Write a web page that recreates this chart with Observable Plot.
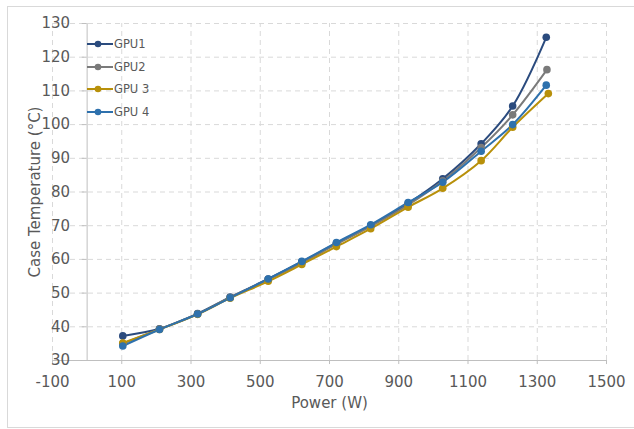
<!DOCTYPE html>
<html>
<head>
<meta charset="utf-8">
<script src="https://cdn.jsdelivr.net/npm/d3@7"></script>
<script src="https://cdn.jsdelivr.net/npm/@observablehq/plot@0.6"></script>
<style>
  html, body { margin: 0; padding: 0; background: #fff; overflow: hidden; }
  #wrap { position: relative; width: 634px; height: 429px; font-family: "DejaVu Sans", sans-serif; }
  #frame { position: absolute; left: 7px; top: 6px; width: 640px; height: 420px; border: 1px solid #d9d9d9; pointer-events: none; }
  #legend { position: absolute; left: 87px; top: 33px; font-size: 11.5px; color: #595959; }
  .item { height: 22.5px; display: flex; align-items: center; }
  .item svg { margin-right: 1px; }
</style>
</head>
<body>
<div id="wrap"><div id="frame"></div><div id="legend"></div></div>
<script>
const series = ["GPU1", "GPU2", "GPU 3", "GPU 4"];
const colors = ["#2b4b7e", "#7a7a7a", "#b8900a", "#2e71ad"];
const power1 = [103, 209, 319, 413, 523, 620, 720, 819, 927, 1027, 1138, 1229, 1326];
const power2 = [103, 209, 319, 413, 523, 620, 720, 819, 927, 1027, 1138, 1229, 1328];
const power3 = [103, 209, 319, 413, 523, 620, 720, 819, 927, 1027, 1138, 1229, 1332];
const power4 = [103, 209, 319, 413, 523, 620, 720, 819, 927, 1027, 1138, 1229, 1326];
const gpu1 = [37.3, 39.4, 43.9, 48.8, 54.2, 59.3, 64.8, 70.0, 76.6, 83.9, 94.3, 105.5, 125.9];
const gpu2 = [35.0, 39.3, 43.8, 48.7, 54.0, 58.9, 64.5, 69.8, 76.2, 83.3, 93.2, 102.9, 116.3];
const gpu3 = [35.2, 39.2, 43.7, 48.5, 53.5, 58.5, 63.8, 69.1, 75.5, 81.1, 89.3, 99.2, 109.2];
const gpu4 = [34.3, 39.2, 43.8, 48.6, 54.2, 59.4, 65.0, 70.3, 76.9, 82.9, 92.1, 100.0, 111.7];
const xTicks = [-100, 100, 300, 500, 700, 900, 1100, 1300, 1500];
const yTicks = [30, 40, 50, 60, 70, 80, 90, 100, 110, 120, 130];

const powers = [power1, power2, power3, power4];
const temps = [gpu1, gpu2, gpu3, gpu4];
const data = series.flatMap((s, i) => temps[i].map((t, j) => ({series: s, power: powers[i][j], temp: t})));

const axisColor = "#bfbfbf";
const gridColor = "#d9d9d9";
const textColor = "#595959";

const chart = Plot.plot({
  width: 634,
  height: 429,
  marginLeft: 52,
  marginRight: 28,
  marginTop: 23,
  marginBottom: 69,
  style: {fontFamily: "DejaVu Sans, sans-serif", fontSize: "15px", color: textColor, background: "transparent"},
  x: {domain: [-100, 1500], axis: null},
  y: {domain: [30, 130], axis: null},
  color: {domain: series, range: colors},
  marks: [
    Plot.ruleX(xTicks, {x: d => d, y1: 30, y2: 130, stroke: gridColor, strokeDasharray: "5,4"}),
    Plot.ruleY(yTicks.filter(d => d > 30), {y: d => d, x1: -100, x2: 1500, stroke: gridColor, strokeDasharray: "5,4"}),
    Plot.ruleY([30], {y: d => d, x1: -100, x2: 1500, stroke: axisColor}),
    Plot.ruleX([0], {x: d => d, y1: 30, y2: 130, stroke: axisColor}),
    Plot.ruleX(xTicks, {x: d => d, y1: 30, y2: 28.8, stroke: axisColor}),
    Plot.ruleY(yTicks, {y: d => d, x1: -14, x2: 0, stroke: axisColor}),
    Plot.text(xTicks, {x: d => d, y: 30, dy: 22, text: d => String(d), fill: textColor, fontSize: 15}),
    Plot.text(yTicks, {x: 0, y: d => d, dx: -17, textAnchor: "end", text: d => String(d), fill: textColor, fontSize: 15}),
    Plot.text(["Power (W)"], {frameAnchor: "bottom", dy: 47, text: d => d, fill: textColor, fontSize: 15}),
    Plot.text(["Case Temperature (°C)"], {frameAnchor: "left", textAnchor: "middle", dx: -17, rotate: -90, text: d => d, fill: textColor, fontSize: 15}),
    Plot.line(data, {x: "power", y: "temp", z: "series", stroke: "series", strokeWidth: 2, curve: "catmull-rom"}),
    Plot.dot(data, {x: "power", y: "temp", fill: "series", r: 3.8})
  ]
});
document.getElementById("wrap").appendChild(chart);
chart.style.position = "absolute";
chart.style.left = "0";
chart.style.top = "0";

const legend = document.getElementById("legend");
series.forEach((s, i) => {
  const item = document.createElement("div");
  item.className = "item";
  item.innerHTML = `<svg width="26" height="10"><line x1="0" y1="5" x2="26" y2="5" stroke="${colors[i]}" stroke-width="2"/><circle cx="11" cy="5" r="3.3" fill="${colors[i]}"/></svg><span>${s}</span>`;
  legend.appendChild(item);
});
document.getElementById("wrap").appendChild(document.getElementById("frame"));
document.getElementById("wrap").appendChild(legend);
</script>
</body>
</html>
